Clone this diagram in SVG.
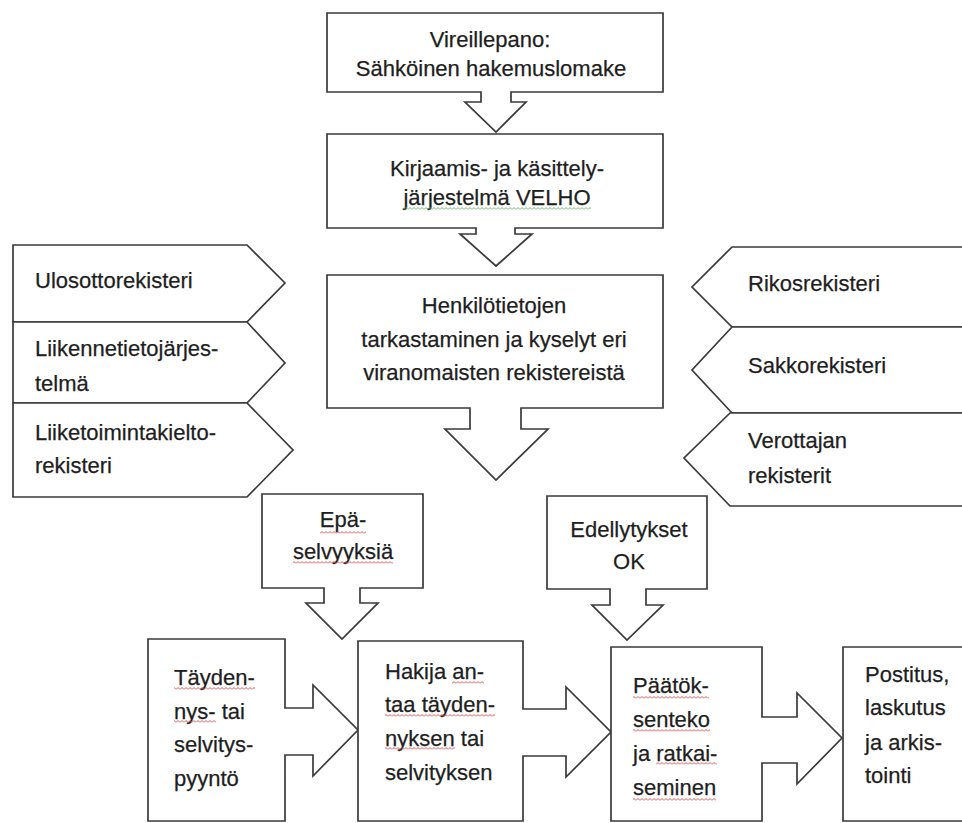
<svg xmlns="http://www.w3.org/2000/svg" width="962" height="823" viewBox="0 0 962 823">
<style>
.s{fill:#fff;stroke:#3a3a3a;stroke-width:1.7;stroke-linejoin:miter}
text{font-family:"Liberation Sans",Arial,sans-serif;font-size:22px;fill:#1e1e1e;stroke:#1e1e1e;stroke-width:0.25}
.c{text-anchor:middle}
</style>
<defs>
<pattern id="sqr" patternUnits="userSpaceOnUse" width="4" height="3"><polyline points="0,2.5 2,0.5 4,2.5" fill="none" stroke="#e03c3c" stroke-width="0.9"/></pattern>
<pattern id="sqg" patternUnits="userSpaceOnUse" width="4" height="3"><polyline points="0,2.5 2,0.5 4,2.5" fill="none" stroke="#5cb85c" stroke-width="0.9"/></pattern>
</defs>
<rect width="962" height="823" fill="#fff"/>
<g id="connectors"></g>
<g id="n1"><path class="s" d="M327,13 H663 V92 H511 V102 H526 L496,132 L465,102 H481 V92 H327 Z"/>
<text class="c" x="490" y="47">Vireillepano:</text><text class="c" x="491" y="76">Sähköinen hakemuslomake</text></g>
<g id="n2"><path class="s" d="M327,134 H663 V228 H515 V234 H532 L496,266 L460,234 H476 V228 H327 Z"/>
<text class="c" x="497" y="176">Kirjaamis- ja käsittely-</text><text class="c" x="497" y="205">järjestelmä VELHO</text></g>
<g id="n3"><path class="s" d="M327,275 H663 V408 H521 V429 H548 L496,480 L445,429 H470 V408 H327 Z"/>
<text class="c" x="494" y="313">Henkilötietojen</text><text class="c" x="494" y="347">tarkastaminen ja kyselyt eri</text><text class="c" x="494" y="380">viranomaisten rekistereistä</text></g>
<g id="l1"><path class="s" d="M13,245 H247 L285,283 L247,322 H13 Z"/><text x="35" y="288">Ulosottorekisteri</text></g>
<g id="l2"><path class="s" d="M13,322 H247 L285,363 L247,403 H13 Z"/><text x="35" y="356">Liikennetietojärjes-</text><text x="35" y="391">telmä</text></g>
<g id="l3"><path class="s" d="M13,403 H247 L293,450 L247,497 H13 Z"/><text x="35" y="440">Liiketoimintakielto-</text><text x="35" y="473">rekisteri</text></g>
<g id="r1"><path class="s" d="M968,247 H732 L692,287 L732,327 H968 Z"/><text x="748" y="291">Rikosrekisteri</text></g>
<g id="r2"><path class="s" d="M968,327 H732 L692,370 L732,413 H968 Z"/><text x="748" y="373">Sakkorekisteri</text></g>
<g id="r3"><path class="s" d="M968,413 H730 L684,458 L730,506 H968 Z"/><text x="748" y="448">Verottajan</text><text x="748" y="483">rekisterit</text></g>
<g id="n4"><path class="s" d="M262,494 H423 V588 H360 V603 H378 L342,639 L306,603 H324 V588 H262 Z"/>
<text class="c" x="343" y="527">Epä-</text><text class="c" x="343" y="559">selvyyksiä</text></g>
<g id="n5"><path class="s" d="M547,496 H707 V589 H646 V605 H663 L627,640 L592,605 H610 V589 H547 Z"/>
<text class="c" x="629" y="537">Edellytykset</text><text class="c" x="629" y="569">OK</text></g>
<g id="n6"><path class="s" d="M148,639 H285 V708 H313 V685 L358,730 L313,776 V755 H285 V821 H148 Z"/>
<text x="174" y="685">Täyden-</text><text x="174" y="719">nys- tai</text><text x="174" y="752">selvitys-</text><text x="174" y="786">pyyntö</text></g>
<g id="n7"><path class="s" d="M358,641 H523 V709 H566 V687 L611,732 L566,777 V756 H523 V821 H358 Z"/>
<text x="385" y="679">Hakija an-</text><text x="385" y="712">taa täyden-</text><text x="385" y="746">nyksen tai</text><text x="385" y="780">selvityksen</text></g>
<g id="n8"><path class="s" d="M611,647 H762 V717 H797 V693 L842,738 L797,784 V763 H762 V821 H611 Z"/>
<text x="633" y="693">Päätök-</text><text x="633" y="727">senteko</text><text x="633" y="761">ja ratkai-</text><text x="633" y="795">seminen</text></g>
<g id="n9"><path class="s" d="M843,647 H968 V821 H843 Z"/>
<text x="865" y="682">Postitus,</text><text x="865" y="715">laskutus</text><text x="865" y="750">ja arkis-</text><text x="865" y="783">tointi</text></g>
<g id="spellcheck">
<rect x="403" y="207" width="188" height="3" fill="url(#sqg)"/>
<rect x="320" y="531" width="46" height="3" fill="url(#sqr)"/>
<rect x="293" y="561" width="100" height="3" fill="url(#sqr)"/>
<rect x="174" y="687" width="81" height="3" fill="url(#sqr)"/>
<rect x="174" y="720" width="42" height="3" fill="url(#sqr)"/>
<rect x="452" y="681" width="32" height="3" fill="url(#sqr)"/>
<rect x="385" y="714" width="110" height="3" fill="url(#sqr)"/>
<rect x="385" y="747" width="70" height="3" fill="url(#sqr)"/>
<rect x="633" y="696" width="76" height="3" fill="url(#sqr)"/>
<rect x="633" y="729" width="77" height="3" fill="url(#sqr)"/>
<rect x="656" y="762" width="61" height="3" fill="url(#sqr)"/>
<rect x="633" y="798" width="83" height="3" fill="url(#sqr)"/>
</g>
</svg>
